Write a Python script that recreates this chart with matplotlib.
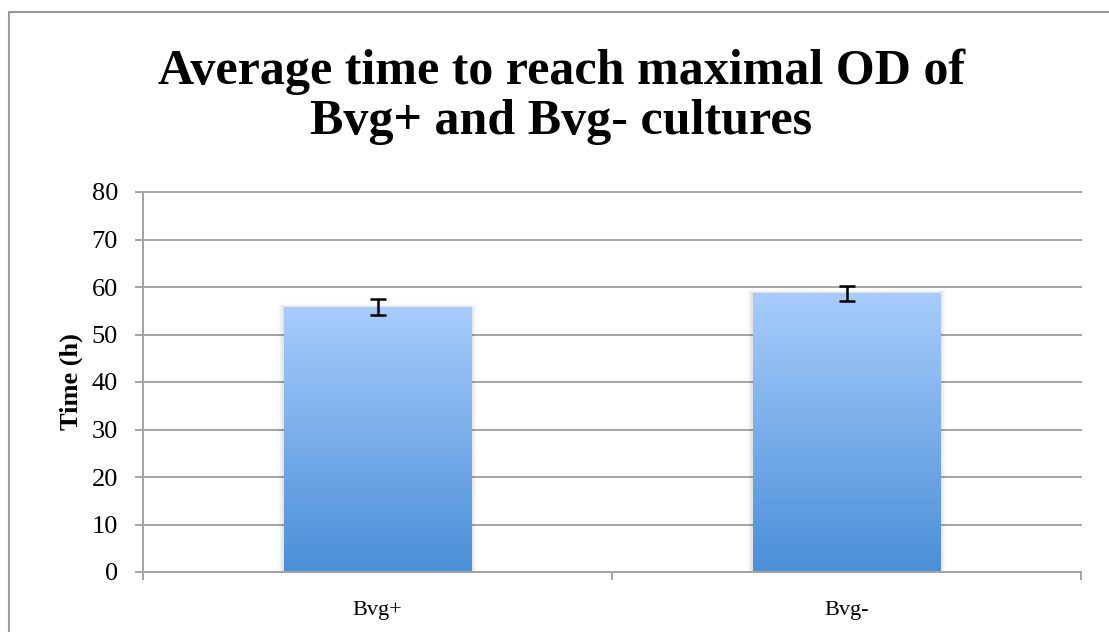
import numpy as np
import matplotlib
matplotlib.use("Agg")
import matplotlib.pyplot as plt
from matplotlib.colors import LinearSegmentedColormap
from matplotlib.patches import Rectangle

categories = ["Bvg+", "Bvg-"]
values = [55.8, 58.7]
errors = [1.7, 1.6]
yticks = [0, 10, 20, 30, 40, 50, 60, 70, 80]
title_lines = ["Average time to reach maximal OD of", "Bvg+ and Bvg- cultures"]
ylabel = "Time (h)"

FONT = "Liberation Serif"
GRID = "#a3a3a3"

fig = plt.figure(figsize=(11.09, 6.32), dpi=100)
fig.patches.append(Rectangle((9/1109, -0.1), 1.2, 1 - 12/632 + 0.1, transform=fig.transFigure,
                             fill=False, edgecolor="#9a9a9a", linewidth=1.5))
ax = fig.add_axes([143/1109, 1 - 572/632, (1081-143)/1109, (572-192)/632])

x = np.arange(len(categories))
ax.set_xlim(-0.5, len(categories) - 0.5)
ax.set_ylim(0, 80)
ax.set_yticks(yticks)
ax.yaxis.grid(True, color=GRID, linewidth=1.4)
for gl in ax.get_ygridlines():
    gl.set_clip_on(False)
ax.set_axisbelow(True)
for s in ["top", "right"]:
    ax.spines[s].set_visible(False)
for s in ["bottom", "left"]:
    ax.spines[s].set_color(GRID)
    ax.spines[s].set_linewidth(1.4)

cmap = LinearSegmentedColormap.from_list("g", ["#4a8fd8", "#a8ccfc"])
grad = np.linspace(0, 1, 256).reshape(-1, 1)
bars = ax.bar(x, values, width=0.4, color="none", edgecolor="none", zorder=2)
for b in bars:
    x0, y0, w, h = b.get_x(), b.get_y(), b.get_width(), b.get_height()
    for i, a in enumerate([0.05, 0.035, 0.02]):
        ax.add_patch(Rectangle((x0 - 0.004*(i+1), y0), w + 0.008*(i+1), h + 0.25*(i+1),
                               facecolor="#000000", alpha=a, edgecolor="none", zorder=1.5))
    im = ax.imshow(grad, extent=[x0, x0 + w, y0, y0 + h], origin="lower", aspect="auto",
                   cmap=cmap, zorder=2)
    im.set_clip_path(b)

ax.errorbar(x, values, yerr=errors, fmt="none", ecolor="black", elinewidth=1.8,
            capsize=6, capthick=1.8, zorder=3)

ax.set_xticks(x)
ax.set_xticklabels(categories, fontsize=16, family=FONT)
ax.tick_params(axis="x", length=0, pad=21)
for xb in [-0.5, 0.5, 1.5]:
    ax.plot([xb, xb], [0, -1.5], color=GRID, linewidth=1.4, clip_on=False)
ax.tick_params(axis="y", length=6, color=GRID, width=1.4, pad=12, labelsize=19)
for lab in ax.get_yticklabels():
    lab.set_family(FONT)
ax.set_ylabel(ylabel, fontsize=19, fontweight="bold", family=FONT, labelpad=6)

fig.text(561/1109, 1 - 84/632, title_lines[0], ha="center", va="baseline", fontsize=36,
         fontweight="bold", family=FONT)
fig.text(561/1109, 1 - 134/632, title_lines[1], ha="center", va="baseline", fontsize=36,
         fontweight="bold", family=FONT)

fig.savefig("out.png", dpi=100)
